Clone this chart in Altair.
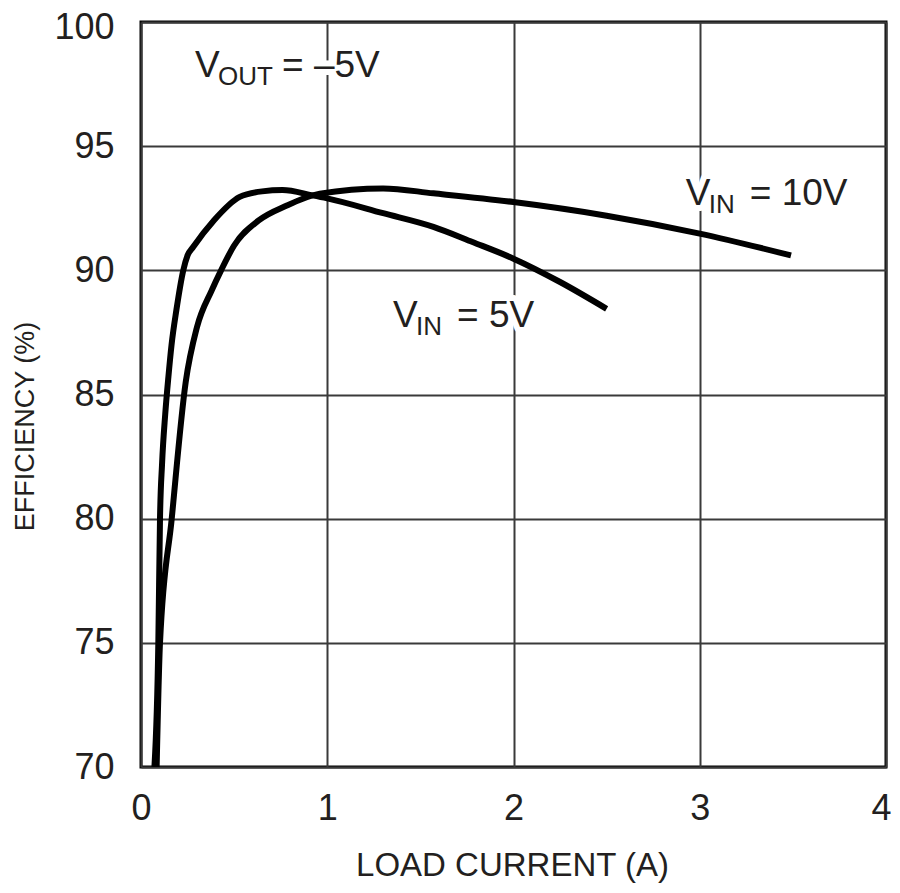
import altair as alt
import pandas as pd

# --- data ---
x_5v = [0.072, 0.093, 0.102, 0.113, 0.13, 0.147, 0.164, 0.19, 0.227, 0.25, 0.28,
        0.39, 0.53, 0.65, 0.76, 0.92, 1.0, 1.3, 1.57, 1.78, 2.0, 2.25, 2.5]
y_5v = [70.0, 75.0, 80.0, 82.2, 84.2, 85.7, 87.0, 88.4, 90.0, 90.6, 90.94,
        92.0, 92.96, 93.18, 93.23, 93.02, 92.9, 92.3, 91.75, 91.14, 90.47, 89.53, 88.45]

x_10v = [0.084, 0.102, 0.165, 0.24, 0.30, 0.38, 0.43, 0.5, 0.63, 0.78,
         0.96, 1.3, 1.57, 2.0, 2.5, 3.0, 3.49]
y_10v = [70.0, 75.0, 80.0, 85.5, 87.7, 89.2, 90.0, 91.0, 92.0, 92.6,
         93.09, 93.3, 93.1, 92.75, 92.2, 91.48, 90.6]

x_ticks = [0, 1, 2, 3, 4]
y_ticks = [70, 75, 80, 85, 90, 95, 100]

# annotation labels: main letter, subscript, remainder
ann_kind = ["vout", "vin", "vin"]
ann_x = [0.29, 2.925, 1.353]
ann_y = [97.78, 92.62, 87.71]
ann_main = ["V", "V", "V"]
ann_sub = ["OUT", "IN", "IN"]
ann_rest = ["= \u20135V", "= 10V", "= 5V"]

FONT = "'Liberation Sans', Arial, sans-serif"
INK = "#231f20"

curves = pd.concat([
    pd.DataFrame({"current": x_5v, "eff": y_5v, "series": "VIN=5V"}),
    pd.DataFrame({"current": x_10v, "eff": y_10v, "series": "VIN=10V"}),
])
ann = pd.DataFrame({"kind": ann_kind, "x": ann_x, "y": ann_y,
                    "main": ann_main, "sub": ann_sub, "rest": ann_rest})

xs = alt.Scale(domain=[0, 4], nice=False, zero=False)
ys = alt.Scale(domain=[70, 100], nice=False, zero=False)

base_curve = alt.Chart(curves)
lines = base_curve.mark_line(
    color="black", strokeWidth=6, interpolate="monotone", clip=True,
    strokeCap="butt", strokeJoin="round"
).encode(
    x=alt.X("current:Q", scale=xs,
            axis=alt.Axis(values=x_ticks, title="LOAD CURRENT (A)", format="d",
                          grid=True, ticks=False, domain=False, labelFlush=False,
                          labelBaseline="alphabetic", labelPadding=52,
                          labelOffset=alt.ExprRef("datum.value == 4 ? -5 : 0"),
                          titleBaseline="alphabetic", titleY=108, titleX=371)),
    y=alt.Y("eff:Q", scale=ys,
            axis=alt.Axis(values=y_ticks, title="EFFICIENCY (%)", format="d",
                          grid=True, ticks=False, domain=False, labelFlush=False,
                          labelOffset=alt.ExprRef("datum.value == 100 ? 5 : 0"),
                          labelPadding=27, titleX=-102, titleY=404)),
    detail="series:N",
)

base_ann = alt.Chart(ann)
enc = dict(x=alt.X("x:Q", scale=xs), y=alt.Y("y:Q", scale=ys))


def text_layers(field, size, dx, dy, data_filter=None):
    ch = base_ann
    if data_filter is not None:
        ch = ch.transform_filter(data_filter)
    halo = ch.mark_text(font=FONT, fontSize=size, align="left", baseline="alphabetic",
                        dx=dx, dy=dy, color="white", stroke="white",
                        strokeWidth=12, strokeJoin="round").encode(text=f"{field}:N", **enc)
    ink = ch.mark_text(font=FONT, fontSize=size, align="left", baseline="alphabetic",
                       dx=dx, dy=dy, color=INK).encode(text=f"{field}:N", **enc)
    return halo, ink


h_main, t_main = text_layers("main", 37, 0, 0)
h_sub, t_sub = text_layers("sub", 26, 23, 8)
h_rest_o, t_rest_o = text_layers("rest", 37, 87, 0, alt.datum.kind == "vout")
h_rest_i, t_rest_i = text_layers("rest", 37, 64, 0, alt.datum.kind == "vin")

chart = alt.layer(
    lines, h_main, h_sub, h_rest_o, h_rest_i, t_main, t_sub, t_rest_o, t_rest_i
).properties(
    width=745, height=745,
    background="white",
    autosize=alt.AutoSizeParams(type="none"),
    padding={"left": 133, "top": 14, "right": 6, "bottom": 118},
).configure_view(
    stroke="black", strokeWidth=3
).configure_axis(
    gridColor="#3a3a3a", gridWidth=2, gridOpacity=1,
    labelFont=FONT, labelFontSize=36, labelColor=INK,
    titleFont=FONT, titleFontSize=33, titleColor=INK, titleFontWeight="normal",
).configure_axisY(
    titleFontSize=27
)

chart.save("out.html", embed_options={"renderer": "svg", "actions": False})
